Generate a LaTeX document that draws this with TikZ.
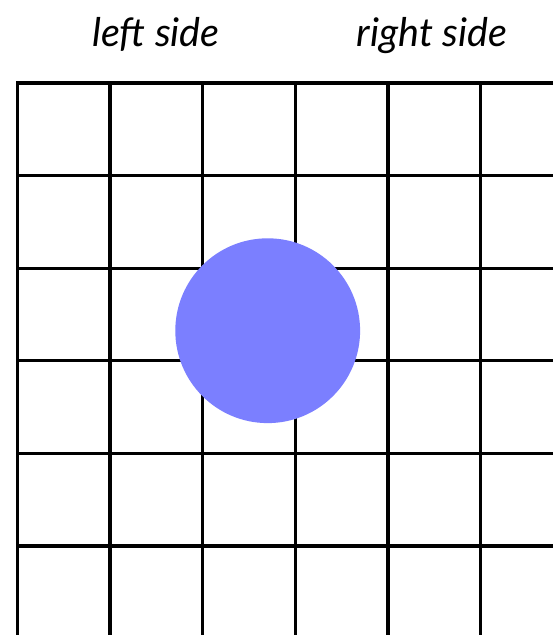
\documentclass[tikz,border=0pt]{standalone}
\usepackage{fontspec}
\setmainfont{Lato}
\definecolor{discblue}{RGB}{123,127,255}
\begin{document}
\begin{tikzpicture}[x=1pt,y=-1pt,
  gridline/.style={line width=3.3pt,black},
  label/.style={font=\itshape\fontsize{39.5}{46}\selectfont,inner sep=0pt,anchor=base}]
\useasboundingbox (0,0) rectangle (553,635);
\fill[white] (0,0) rectangle (553,635);
\node[label] (ls) at (156,46) {left side};
\node[label] (rs) at (432,46) {right side};
\draw[gridline] (17.5,635) -- (17.5,83) -- (553,83);
\foreach \k in {1,...,5} {
  \draw[gridline] ({17.5+\k*92.6},83) -- ({17.5+\k*92.6},635);
  \draw[gridline] (17.5,{83+\k*92.6}) -- (553,{83+\k*92.6});
}
\fill[discblue] (267.7,330.7) circle (92.4);
\end{tikzpicture}
\end{document}
